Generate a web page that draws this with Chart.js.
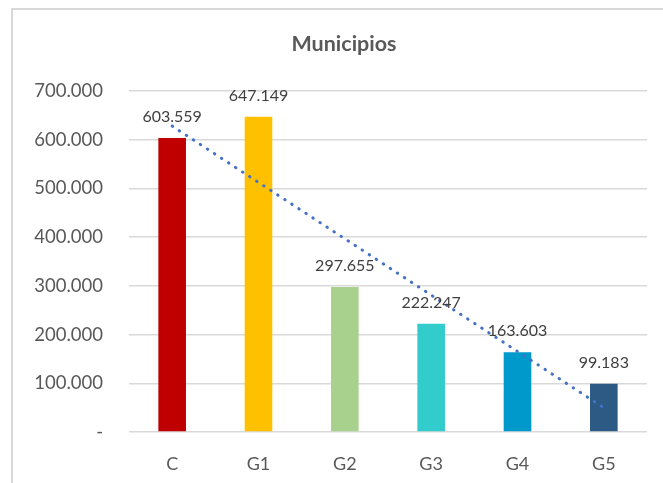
<!DOCTYPE html>
<html>
<head>
<meta charset="utf-8">
<script src="https://cdn.jsdelivr.net/npm/chart.js@4/dist/chart.umd.min.js"></script>
<style>
  body { margin: 0; background: #fff; overflow: hidden; }
  #chart { display: block; }
</style>
</head>
<body>
<!-- the chart frame runs past the right edge of the window, as in the original -->
<canvas id="chart" width="676" height="483"></canvas>
<script>
// Chart data
const categories = ["C", "G1", "G2", "G3", "G4", "G5"];
const values = [603559, 647149, 297655, 222247, 163603, 99183];
const barColors = ["#C00000", "#FFC000", "#A9D18E", "#33CCCC", "#0099CC", "#2C5A85"];
// linear trend line (start / end)
const trendValues = [628000, null, null, null, null, 49800];
const yTicks = [0, 100000, 200000, 300000, 400000, 500000, 600000, 700000];
const chartTitle = "Municipios";

// 603559 -> "603.559"
function fmt(n) {
  return String(Math.round(n)).replace(/\B(?=(\d{3})+(?!\d))/g, ".");
}

// light frame around the chart + title centred on the full frame
const framePlugin = {
  id: "frame",
  beforeDraw(chart) {
    const ctx = chart.ctx;
    ctx.save();
    ctx.strokeStyle = "#d9d9d9";
    ctx.lineWidth = 2;
    ctx.beginPath();
    ctx.moveTo(12, 483);
    ctx.lineTo(12, 9);
    ctx.lineTo(chart.width, 9);
    ctx.stroke();

    ctx.font = "bold 21.5px Lato";
    ctx.fillStyle = "#595959";
    ctx.textAlign = "center";
    ctx.textBaseline = "middle";
    ctx.fillText(chartTitle, (12 + chart.width) / 2, 44);
    ctx.restore();
  },
};

// value labels above the bars
const barLabels = {
  id: "barLabels",
  afterDatasetsDraw(chart) {
    const ctx = chart.ctx;
    const meta = chart.getDatasetMeta(0);
    ctx.save();
    ctx.font = "16px Lato";
    ctx.fillStyle = "#404040";
    ctx.textAlign = "center";
    ctx.textBaseline = "middle";
    meta.data.forEach((bar, i) => {
      ctx.fillText(fmt(values[i]), bar.x, bar.y - 21);
    });
    ctx.restore();
  },
};

new Chart(document.getElementById("chart"), {
  type: "bar",
  data: {
    labels: categories,
    datasets: [
      {
        label: chartTitle,
        data: values,
        backgroundColor: barColors,
        categoryPercentage: 1,
        barPercentage: 0.32,
        order: 1,
      },
      {
        type: "line",
        label: "Tendencia",
        data: trendValues,
        spanGaps: true,
        borderColor: "#4472C4",
        borderWidth: 3,
        borderDash: [0.5, 7.9],
        borderCapStyle: "round",
        pointRadius: 0,
        fill: false,
        order: 0,
      },
    ],
  },
  options: {
    responsive: false,
    animation: false,
    layout: { padding: { left: 0, right: 29, top: 91, bottom: 0 } },
    plugins: {
      legend: { display: false },
      tooltip: { enabled: false },
      title: { display: false },
    },
    scales: {
      x: {
        grid: { display: false, drawTicks: false },
        border: { display: false },
        ticks: {
          color: "#595959",
          font: { family: "Lato", size: 18 },
          padding: 21,
        },
        afterFit: (scale) => { scale.height = 51; },
      },
      y: {
        min: 0,
        max: 700000,
        afterBuildTicks: (scale) => {
          scale.ticks = yTicks.map((v) => ({ value: v }));
        },
        grid: { color: "#d9d9d9", lineWidth: 1.5, drawTicks: false },
        border: { display: false },
        ticks: {
          color: "#595959",
          font: { family: "Lato", size: 18.5 },
          padding: 26,
          callback: (v) => (v === 0 ? "-" : fmt(v)),
        },
        afterFit: (scale) => { scale.width = 129; },
      },
    },
  },
  plugins: [framePlugin, barLabels],
});
</script>
</body>
</html>
